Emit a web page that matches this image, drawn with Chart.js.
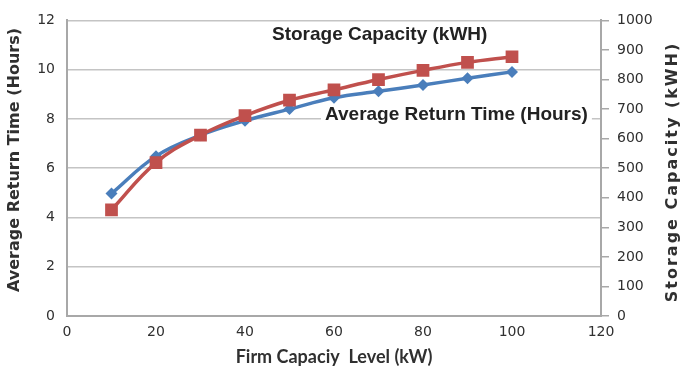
<!DOCTYPE html>
<html>
<head>
<meta charset="utf-8">
<script src="https://cdn.jsdelivr.net/npm/chart.js@4/dist/chart.umd.min.js"></script>
<style>
    html, body { margin: 0; padding: 0; background: #fff; }
    #chart { display: block; }
</style>
</head>
<body>
<canvas id="chart" width="682" height="375"></canvas>
<script>
// Chart data
const capacityLevels = [10, 20, 30, 40, 50, 60, 70, 80, 90, 100];
const returnTimeHours = [4.97, 6.49, 7.34, 7.93, 8.40, 8.86, 9.12, 9.38, 9.65, 9.91];
const storageKWH = [359, 519, 612, 678, 730, 765, 800, 831, 858, 877];

const xTicks = [0, 20, 40, 60, 80, 100, 120];
const leftTicks = [0, 2, 4, 6, 8, 10, 12];
const rightTicks = [0, 100, 200, 300, 400, 500, 600, 700, 800, 900, 1000];

const gridGray = '#c4c4c4';
const axisGray = '#a8a8a8';
const textColor = '#303030';
const tickFont = { family: '"DejaVu Sans", Verdana, sans-serif', size: 14 };

function toPoints(xs, ys) {
    return xs.map((x, i) => ({ x: x, y: ys[i] }));
}

// Draw rotated text centred on (x, y), reading bottom to top
function drawVerticalTitle(ctx, text, x, y, spacing) {
    ctx.save();
    ctx.translate(x, y);
    ctx.rotate(-Math.PI / 2);
    ctx.font = 'bold 16px "DejaVu Sans", Verdana, sans-serif';
    ctx.letterSpacing = spacing;
    ctx.fillStyle = textColor;
    ctx.textAlign = 'center';
    ctx.textBaseline = 'middle';
    ctx.fillText(text, 0, 0);
    ctx.restore();
}

// Labels drawn inside the plot and the two vertical axis titles
const annotationPlugin = {
    id: 'annotations',
    beforeDatasetsDraw(chart) {
        const ctx = chart.ctx;
        const y = chart.scales.y;
        ctx.save();
        ctx.font = 'bold 19px "Liberation Sans", Arial, sans-serif';
        ctx.textBaseline = 'middle';

        // "Average Return Time" label sits on the 8h gridline with a white box
        const avgText = 'Average Return Time (Hours)';
        const avgY = y.getPixelForValue(8) - 4;
        const w = ctx.measureText(avgText).width;
        const ax = 325;
        ctx.fillStyle = '#fff';
        ctx.fillRect(ax - 4, avgY - 9, w + 8, 20);
        ctx.fillStyle = '#222';
        ctx.fillText(avgText, ax, avgY);

        ctx.fillText('Storage Capacity (kWH)', 272, 35);
        ctx.restore();
    },
    afterDraw(chart) {
        drawVerticalTitle(chart.ctx, 'Average Return Time (Hours)', 15, 160, '0px');
        drawVerticalTitle(chart.ctx, 'Storage Capacity (kWH)', 673, 172, '2px');
    }
};

new Chart(document.getElementById('chart'), {
    type: 'line',
    data: {
        datasets: [
            {
                label: 'Storage Capacity (kWH)',
                data: toPoints(capacityLevels, storageKWH),
                yAxisID: 'y1',
                borderColor: '#c0504d',
                backgroundColor: '#c0504d',
                borderWidth: 3.5,
                pointStyle: 'rect',
                pointRadius: 9,
                pointBorderWidth: 0,
                tension: 0.4,
                order: 0
            },
            {
                label: 'Average Return Time (Hours)',
                data: toPoints(capacityLevels, returnTimeHours),
                yAxisID: 'y',
                borderColor: '#4a7ebb',
                backgroundColor: '#4a7ebb',
                borderWidth: 3.5,
                pointStyle: 'rectRot',
                pointRadius: 6,
                pointBorderWidth: 0,
                tension: 0.4,
                order: 1
            }
        ]
    },
    options: {
        responsive: false,
        animation: false,
        layout: { padding: { top: 12, left: 0, right: 0, bottom: 0 } },
        plugins: {
            legend: { display: false },
            tooltip: { enabled: false }
        },
        scales: {
            x: {
                type: 'linear',
                min: 0,
                max: 120,
                afterBuildTicks: (axis) => { axis.ticks = xTicks.map(v => ({ value: v })); },
                afterFit: (axis) => { axis.height = 59; },
                grid: { drawOnChartArea: false, drawTicks: false },
                border: { display: true, color: axisGray, width: 2 },
                ticks: { padding: 8, color: textColor, font: tickFont },
                title: {
                    display: true,
                    text: 'Firm Capaciy  Level (kW)',
                    color: textColor,
                    font: { family: 'Lato, "Open Sans", sans-serif', size: 18, weight: 'bold' },
                    padding: { top: 0, bottom: 7 }
                }
            },
            y: {
                position: 'left',
                min: 0,
                max: 12,
                afterBuildTicks: (axis) => { axis.ticks = leftTicks.map(v => ({ value: v })); },
                afterFit: (axis) => { axis.width = 67; },
                grid: { color: gridGray, lineWidth: 1.5, drawTicks: false },
                border: { display: true, color: axisGray, width: 2 },
                ticks: { padding: 12, color: textColor, font: tickFont }
            },
            y1: {
                position: 'right',
                min: 0,
                max: 1000,
                afterBuildTicks: (axis) => { axis.ticks = rightTicks.map(v => ({ value: v })); },
                afterFit: (axis) => { axis.width = 81; },
                grid: { drawOnChartArea: false, color: axisGray, lineWidth: 1.5, tickLength: 8 },
                border: { display: true, color: axisGray, width: 2 },
                ticks: {
                    padding: 8,
                    color: textColor,
                    font: tickFont,
                    callback: (v) => String(v)
                }
            }
        }
    },
    plugins: [annotationPlugin]
});
</script>
</body>
</html>
